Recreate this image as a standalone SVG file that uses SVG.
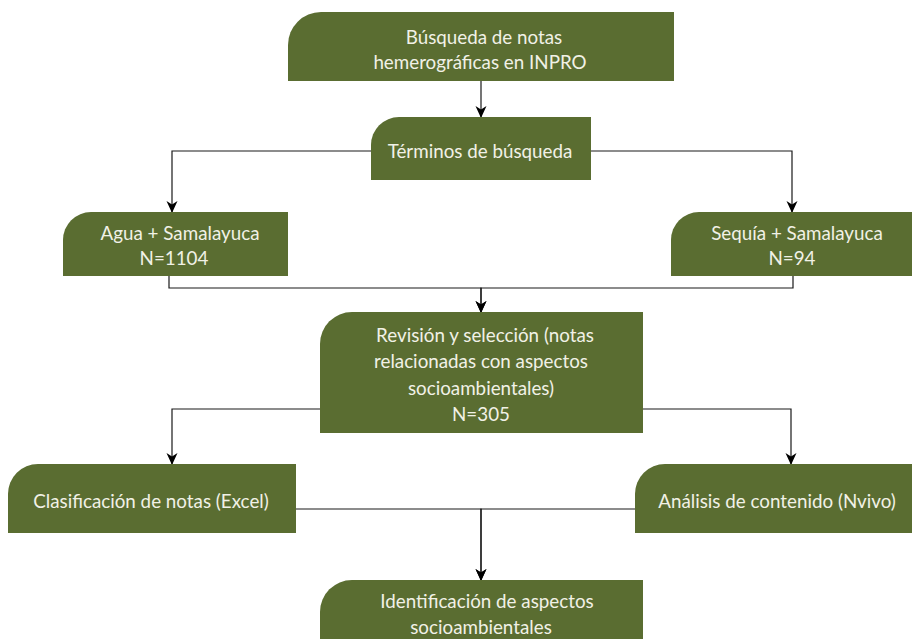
<svg xmlns="http://www.w3.org/2000/svg" width="912" height="639" viewBox="0 0 912 639">
<defs>
<style>
.box{fill:#5a6d31;stroke:none}
.t{font-family:Lato,"Open Sans",sans-serif;font-size:18.8px;fill:#f1f1e6;text-anchor:middle}
.e{fill:none;stroke:#1a1a1a;stroke-width:1.2}
</style>
<marker id="arr" markerUnits="userSpaceOnUse" markerWidth="12" markerHeight="14" viewBox="0 0 12 14" refX="11" refY="7" orient="auto">
<path d="M0,1.5 L12,7 L0,12.5 L3.5,7 Z" fill="#000"/>
</marker>
</defs>
<rect width="912" height="639" fill="#fff"/>
<g id="connectors">
<path class="e" d="M481,81 V117" marker-end="url(#arr)"/>
<path class="e" d="M371,151 H172 V212" marker-end="url(#arr)"/>
<path class="e" d="M591,151 H792 V212" marker-end="url(#arr)"/>
<path class="e" d="M169,276 V288 H481 V312" marker-end="url(#arr)"/>
<path class="e" d="M793,276 V288 H481 V312" marker-end="url(#arr)"/>
<path class="e" d="M320,409 H172 V464" marker-end="url(#arr)"/>
<path class="e" d="M643,409 H791 V464" marker-end="url(#arr)"/>
<path class="e" d="M296,509 H481 V580" marker-end="url(#arr)"/>
<path class="e" d="M635,509 H481 V580" marker-end="url(#arr)"/>
</g>
<g id="n1">
<path class="box" d="M288,45 A33,33 0 0 1 321,12 H674 V81 H288 Z"/>
<text class="t" x="484" y="43.5">Búsqueda de notas</text>
<text class="t" x="480" y="68.5">hemerográficas en INPRO</text>
</g>
<g id="n2">
<path class="box" d="M371,145 A28,28 0 0 1 399,117 H591 V180 H371 Z"/>
<text class="t" x="480" y="158">Términos de búsqueda</text>
</g>
<g id="n3">
<path class="box" d="M63,240 A28,28 0 0 1 91,212 H288 V276 H63 Z"/>
<text class="t" x="180" y="240">Agua + Samalayuca</text>
<text class="t" x="174" y="265">N=1104</text>
</g>
<g id="n4">
<path class="box" d="M671,240 A28,28 0 0 1 699,212 H913 V276 H671 Z"/>
<text class="t" x="797" y="240">Sequía + Samalayuca</text>
<text class="t" x="792" y="265">N=94</text>
</g>
<g id="n5">
<path class="box" d="M320,344 A32,32 0 0 1 352,312 H643 V433 H320 Z"/>
<text class="t" x="485" y="342">Revisión y selección (notas</text>
<text class="t" x="481" y="368">relacionadas con aspectos</text>
<text class="t" x="481" y="395">socioambientales)</text>
<text class="t" x="481" y="421">N=305</text>
</g>
<g id="n6">
<path class="box" d="M8,494 A30,30 0 0 1 38,464 H296 V533 H8 Z"/>
<text class="t" x="151" y="508">Clasificación de notas (Excel)</text>
</g>
<g id="n7">
<path class="box" d="M635,494 A30,30 0 0 1 665,464 H921 V533 H635 Z"/>
<text class="t" x="777" y="508">Análisis de contenido (Nvivo)</text>
</g>
<g id="n8">
<path class="box" d="M320,612 A32,32 0 0 1 352,580 H643 V660 H320 Z"/>
<text class="t" x="487" y="608">Identificación de aspectos</text>
<text class="t" x="481" y="634">socioambientales</text>
</g>
</svg>
